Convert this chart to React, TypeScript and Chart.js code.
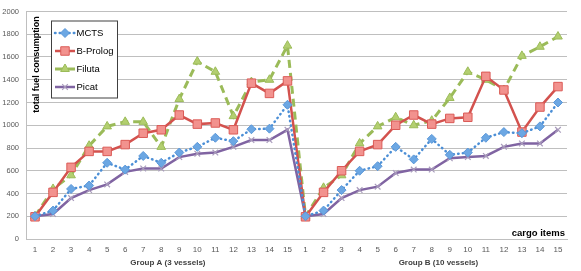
import React, { useEffect, useRef } from 'react';
import { Chart, registerables } from 'chart.js';
import { drawPoint } from 'chart.js/helpers';

Chart.register(...registerables);

const cargoItems = ['1', '2', '3', '4', '5', '6', '7', '8', '9', '10', '11', '12', '13', '14', '15'];
const groupNames = ['Group A (3 vessels)', 'Group B (10 vessels)'];

const mctsA = [200, 250, 440, 470, 670, 610, 730, 670, 760, 810, 890, 860, 965, 970, 1180];
const mctsB = [200, 250, 430, 600, 640, 810, 700, 880, 740, 760, 890, 940, 930, 990, 1200];
const bprologA = [195, 410, 630, 770, 770, 830, 930, 960, 1090, 1010, 1020, 960, 1370, 1280, 1390];
const bprologB = [195, 410, 600, 770, 830, 1000, 1090, 1010, 1060, 1070, 1430, 1310, 940, 1160, 1340];
const filutaA = [200, 440, 560, 820, 990, 1030, 1030, 810, 1230, 1560, 1470, 1080, 1380, 1400, 1700];
const filutaB = [200, 450, 560, 840, 990, 1070, 1000, 1040, 1240, 1470, 1400, 1310, 1610, 1690, 1780];
const picatA = [200, 220, 360, 430, 480, 590, 620, 620, 720, 750, 760, 810, 870, 870, 960];
const picatB = [200, 220, 360, 430, 460, 580, 610, 610, 710, 720, 730, 810, 840, 840, 960];

const yMin = 0;
const yMax = 2000;
const yStep = 200;

const yTitle = 'total fuel consumption';
const xTitle = 'cargo items';

const FONT = '"Liberation Sans", Arial, sans-serif';

const overlayPlugin = {
  id: 'overlayText',
  afterDraw(chart: any) {
    const { ctx, chartArea, scales } = chart;
    const xs = scales.x;
    ctx.save();

    // group labels
    ctx.font = `bold 8px ${FONT}`;
    ctx.fillStyle = '#404040';
    ctx.textAlign = 'center';
    ctx.textBaseline = 'middle';
    groupNames.forEach((g, i) => {
      const start = i * cargoItems.length;
      const cx = xs.getPixelForValue(start + 7.37);
      ctx.fillText(g, cx, chartArea.bottom + 24);
    });

    // x title (inside plot)
    ctx.font = `bold 9.5px ${FONT}`;
    ctx.fillStyle = '#000';
    ctx.textAlign = 'right';
    ctx.fillText(xTitle, chartArea.right - 2, chartArea.bottom - 6);

    // y title (inside plot, rotated)
    ctx.save();
    ctx.translate(chartArea.left + 11, chartArea.top + 53);
    ctx.rotate(-Math.PI / 2);
    ctx.font = `bold 9px ${FONT}`;
    ctx.textAlign = 'center';
    ctx.fillText(yTitle, 0, 0);
    ctx.restore();

    // legend box
    const bx = chartArea.left + 25;
    const by = chartArea.top + 9;
    const bw = 66;
    const bh = 77;
    ctx.fillStyle = '#ffffff';
    ctx.fillRect(bx, by, bw, bh);
    ctx.strokeStyle = '#404040';
    ctx.lineWidth = 1;
    ctx.strokeRect(bx + 0.5, by + 0.5, bw, bh);

    chart.data.datasets.forEach((ds: any, i: number) => {
      const y = by + 12.5 + i * 18;
      ctx.save();
      ctx.beginPath();
      ctx.setLineDash(ds.borderDash || []);
      ctx.lineCap = ds.borderCapStyle || 'butt';
      ctx.strokeStyle = ds.borderColor;
      ctx.lineWidth = ds.borderWidth;
      ctx.moveTo(bx + 4, y);
      ctx.lineTo(bx + 24, y);
      ctx.stroke();
      ctx.restore();
      ctx.save();
      ctx.fillStyle = ds.pointBackgroundColor;
      ctx.strokeStyle = ds.pointBorderColor;
      ctx.lineWidth = ds.pointBorderWidth;
      drawPoint(ctx, { pointStyle: ds.pointStyle, radius: ds.pointRadius, borderWidth: ds.pointBorderWidth, rotation: 0 } as any, bx + 14, y);
      ctx.restore();
      ctx.font = `9.5px ${FONT}`;
      ctx.fillStyle = '#000';
      ctx.textAlign = 'left';
      ctx.textBaseline = 'middle';
      ctx.fillText(ds.label, bx + 25.5, y);
    });

    ctx.restore();
  },
};

export default function App() {
  const ref = useRef<HTMLCanvasElement>(null);

  useEffect(() => {
    document.body.style.margin = '0';
    const canvas = ref.current;
    if (!canvas) return;
    const labels = [...cargoItems, ...cargoItems];
    const chart = new Chart(canvas, {
      type: 'line',
      data: {
        labels,
        datasets: [
          {
            label: 'MCTS',
            data: [...mctsA, ...mctsB],
            borderColor: '#4C8FD6',
            borderWidth: 2.5,
            borderDash: [0.5, 4.2],
            borderCapStyle: 'round',
            pointStyle: 'rectRot',
            pointRadius: 4.5,
            pointBackgroundColor: '#6CA7E3',
            pointBorderColor: '#5A97D8',
            pointBorderWidth: 1,
            tension: 0,
          },
          {
            label: 'B-Prolog',
            data: [...bprologA, ...bprologB],
            borderColor: '#D3524E',
            borderWidth: 2.5,
            pointStyle: 'rect',
            pointRadius: 6,
            pointBackgroundColor: '#F2928E',
            pointBorderColor: '#DB5B57',
            pointBorderWidth: 1,
            tension: 0,
          },
          {
            label: 'Filuta',
            data: [...filutaA, ...filutaB],
            borderColor: '#9BBB59',
            borderWidth: 3,
            borderDash: [8, 5],
            pointStyle: 'triangle',
            pointRadius: 5,
            pointBackgroundColor: '#B3CF70',
            pointBorderColor: '#9BBB59',
            pointBorderWidth: 1,
            tension: 0,
          },
          {
            label: 'Picat',
            data: [...picatA, ...picatB],
            borderColor: '#8064A2',
            borderWidth: 2.5,
            pointStyle: 'crossRot',
            pointRadius: 4,
            pointBackgroundColor: '#A99CBC',
            pointBorderColor: '#A99CBC',
            pointBorderWidth: 1.2,
            tension: 0,
          },
        ],
      },
      options: {
        animation: false,
        responsive: false,
        maintainAspectRatio: false,
        layout: { padding: { top: 7, right: 14, left: 0, bottom: 0 } },
        plugins: {
          legend: { display: false },
          tooltip: { enabled: false },
        },
        scales: {
          x: {
            type: 'category',
            offset: true,
            grid: { display: false, drawTicks: false },
            border: { display: true, color: '#BFBFBF' },
            ticks: {
              padding: 6,
              autoSkip: false,
              maxRotation: 0,
              color: '#595959',
              font: { size: 8, family: FONT },
            },
            afterFit: (s: any) => {
              s.height = 32;
            },
          },
          y: {
            min: yMin,
            max: yMax,
            ticks: {
              stepSize: yStep,
              padding: 7,
              color: '#595959',
              font: { size: 7.5, family: FONT },
              callback: (v: any) => String(v),
            },
            grid: { color: '#BFBFBF', drawTicks: false },
            border: { display: true, color: '#BFBFBF' },
            afterFit: (s: any) => {
              s.width = 26;
            },
          },
        },
      },
      plugins: [overlayPlugin],
    });
    return () => chart.destroy();
  }, []);

  return (
    <div style={{ width: 581, height: 271 }}>
      <canvas ref={ref} width={581} height={271} style={{ display: 'block' }} />
    </div>
  );
}
